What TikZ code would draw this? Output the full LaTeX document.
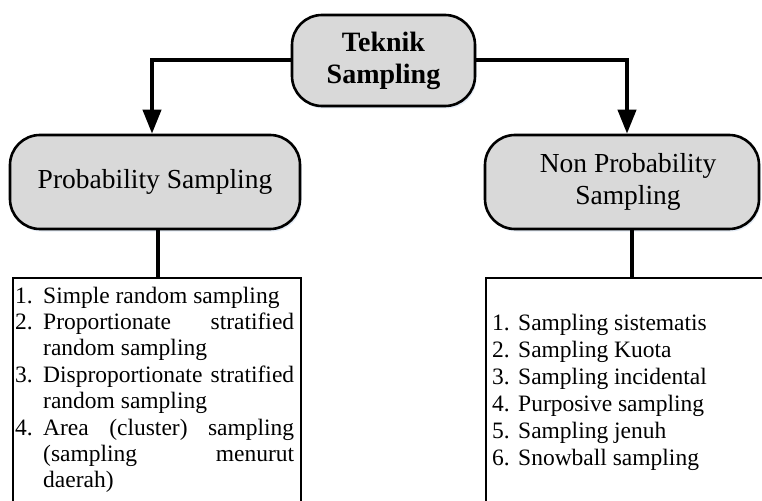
\documentclass[tikz,border=0pt]{standalone}
\usepackage{fontspec}
\setmainfont{Liberation Serif}
\usetikzlibrary{arrows.meta,shadows}
\definecolor{boxgray}{HTML}{D9D9D9}
\definecolor{shadowblue}{HTML}{DCE6F2}
\newcommand\itemline[3]{\hbox to \hsize{\makebox[#1][l]{#2}#3}}
\begin{document}
\begin{tikzpicture}[x=1pt,y=-1pt,
  rbox/.style={draw=black, line width=2.6pt, fill=boxgray, rounded corners=30pt, align=center, inner sep=0pt,
    drop shadow={fill=shadowblue, opacity=0.8, shadow xshift=1.5pt, shadow yshift=-2.5pt}},
  lbox/.style={draw=black, line width=2pt, fill=white, anchor=north west, inner sep=0pt},
  conn/.style={line width=4pt, draw=black},
  tip/.style={-{Triangle[width=18pt,length=24pt]}},
  listtext/.style={inner sep=0pt, anchor=base west}]
\useasboundingbox (0,0) rectangle (762,500);
\clip (0,0) rectangle (762,500);

\node[rbox, minimum width=183pt, minimum height=91pt, font=\bfseries\fontsize{28}{32}\selectfont] (top) at (383.5,60.5) {Teknik\\Sampling};
\node[rbox, minimum width=290pt, minimum height=94pt, font=\fontsize{27.5}{31}\selectfont] (prob) at (155,182) {Probability Sampling};
\node[rbox, minimum width=274pt, minimum height=94pt, font=\fontsize{27.5}{32}\selectfont] (np) at (622,182) {\hspace*{12pt}Non Probability\\\hspace*{12pt}Sampling};

\node[lbox, minimum width=288pt, minimum height=260pt] (L) at (12,277) {};
\node[lbox, minimum width=300pt, minimum height=260pt] (R) at (485,277) {};

\draw[conn, tip] (top.west) -| ([xshift=-3pt]prob.north);
\draw[conn, tip] (top.east) -| ([xshift=5pt]np.north);
\draw[conn] ([xshift=3pt]prob.south) -- ([xshift=3pt]prob.south |- L.north);
\draw[conn] ([xshift=10pt]np.south) -- ([xshift=10pt]np.south |- R.north);

\node[listtext, font=\fontsize{23.5}{26.4}\selectfont] (ltext) at (15,303) {\parbox[t]{279pt}{%
\baselineskip=26.4pt\lineskiplimit=-20pt
\itemline{28pt}{1.}{Simple random sampling\hfil}
\itemline{28pt}{2.}{Proportionate\hfill stratified}
\itemline{28pt}{}{random sampling\hfil}
\itemline{28pt}{3.}{Disproportionate\hfill stratified}
\itemline{28pt}{}{random sampling\hfil}
\itemline{28pt}{4.}{Area\hfill (cluster)\hfill sampling}
\itemline{28pt}{}{(sampling\hfill menurut}
\itemline{28pt}{}{daerah)\hfil}}};

\node[listtext, font=\fontsize{23.5}{27}\selectfont] (rtext) at (492,330) {\parbox[t]{250pt}{%
\baselineskip=27pt\lineskiplimit=-20pt
\itemline{26pt}{1.}{Sampling sistematis\hfil}
\itemline{26pt}{2.}{Sampling Kuota\hfil}
\itemline{26pt}{3.}{Sampling incidental\hfil}
\itemline{26pt}{4.}{Purposive sampling\hfil}
\itemline{26pt}{5.}{Sampling jenuh\hfil}
\itemline{26pt}{6.}{Snowball sampling\hfil}}};
\end{tikzpicture}
\end{document}
